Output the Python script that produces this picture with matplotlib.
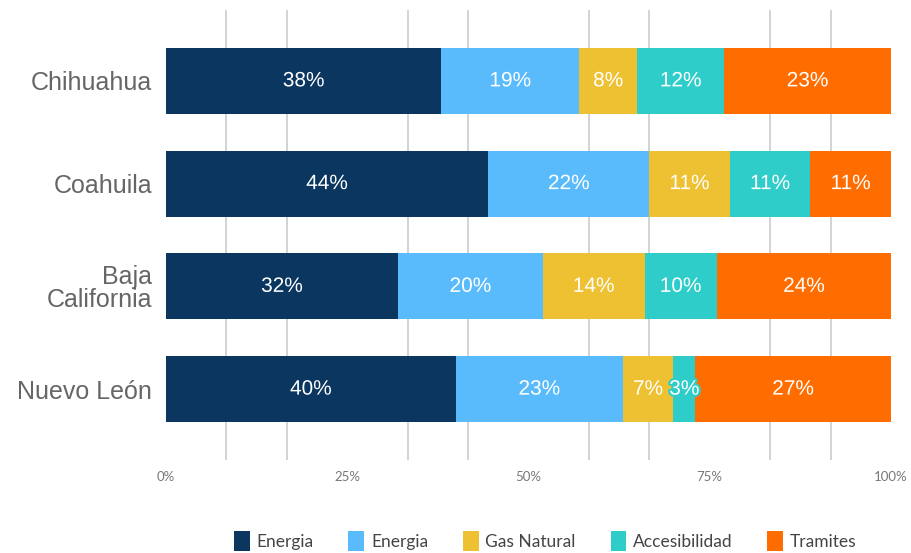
import numpy as np
import matplotlib.pyplot as plt
import matplotlib.patheffects as pe

# Data
estados = ['Chihuahua', 'Coahuila', 'Baja\nCalifornia', 'Nuevo León']
series = ['Energia', 'Energia', 'Gas Natural', 'Accesibilidad', 'Tramites']
energia_1 = [38, 44, 32, 40]
energia_2 = [19, 22, 20, 23]
gas_natural = [8, 11, 14, 7]
accesibilidad = [12, 11, 10, 3]
tramites = [23, 11, 24, 27]
colores = ['#0A365F', '#5ABBFC', '#EEC133', '#2ECDCA', '#FF6D00']

valores = np.array([energia_1, energia_2, gas_natural, accesibilidad, tramites], dtype=float)
fracciones = valores / valores.sum(axis=0)   # 100% stacked

fig = plt.figure(figsize=(9.12, 5.53), dpi=100)
ax = fig.add_axes([166 / 912, 1 - 460 / 553, 725 / 912, 450 / 553])

y = np.arange(len(estados))
izquierda = np.zeros(len(estados))
handles = []
for i, nombre in enumerate(series):
    bars = ax.barh(y, fracciones[i], left=izquierda, height=0.64,
                   color=colores[i], linewidth=0, zorder=2)
    handles.append(bars)
    for j in range(len(estados)):
        ax.text(izquierda[j] + fracciones[i][j] / 2, y[j], f'{valores[i][j]:.0f}%',
                ha='center', va='center', color='white', fontsize=15,
                family='Liberation Sans', zorder=3,
                path_effects=[pe.withStroke(linewidth=3, foreground=colores[i])])
    izquierda += fracciones[i]

# gridlines (only the minor ones are visible in the reference)
for k in [1, 2, 4, 5, 7, 8, 10, 11]:
    ax.axvline(k / 12, color='#D0D0D0', linewidth=1.3, zorder=1)

ax.set_xlim(0, 1)
ax.set_ylim(3.69, -0.69)
ax.set_xticks([0, 0.25, 0.5, 0.75, 1.0])
ax.set_xticklabels(['0%', '25%', '50%', '75%', '100%'], family='Lato',
                   fontsize=9.5, color='#777777')
ax.set_yticks(y)
ax.set_yticklabels(estados, family='Liberation Sans', fontsize=18,
                   color='#666666', linespacing=0.95)
ax.tick_params(axis='both', length=0)
ax.tick_params(axis='y', pad=10)
ax.tick_params(axis='x', pad=8)
for s in ax.spines.values():
    s.set_visible(False)

fig.legend(handles, series, loc='center', ncol=5, frameon=False,
           bbox_to_anchor=(0.598, 1 - 541 / 553), prop={'family': 'Lato', 'size': 12.5},
           labelcolor='#444444', handlelength=0.9, handleheight=1.4,
           handletextpad=0.4, columnspacing=2.0)

plt.savefig('out.png', dpi=100)
